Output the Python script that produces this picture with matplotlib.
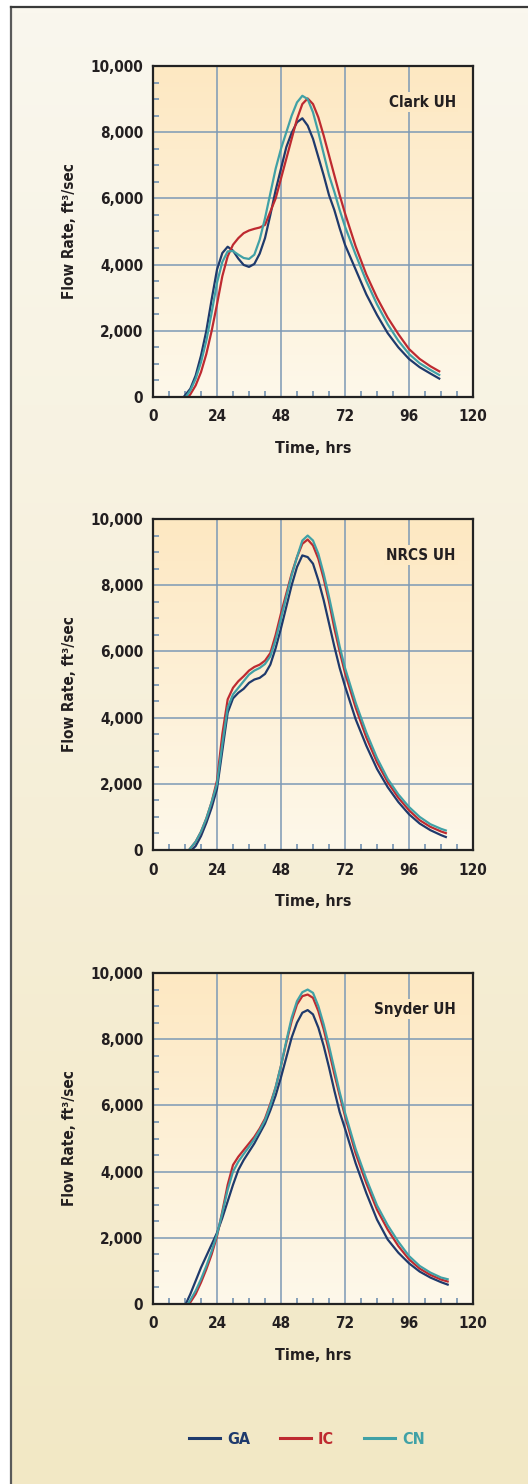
import numpy as np
import matplotlib
matplotlib.use("Agg")
import matplotlib.pyplot as plt
from matplotlib.lines import Line2D
from matplotlib.ticker import MultipleLocator, StrMethodFormatter

plt.rcParams["font.family"] = ["DejaVu Sans"]
plt.rcParams["font.stretch"] = "condensed"
plt.rcParams["font.weight"] = "bold"
plt.rcParams["axes.labelweight"] = "bold"

# ── Data ─────────────────────────────────────────────────────────────────────
# Clark UH
CLARK_HOURS = [14, 16, 18, 20, 22, 24, 26, 28, 30, 32, 34, 36, 38, 40, 42, 44, 46, 48,
               50, 52, 54, 56, 58, 60, 62, 64, 66, 68, 70, 72, 76, 80, 84, 88, 92, 96,
               100, 104, 107.7]
CLARK_START = {"GA": 11.5, "IC": 13.2, "CN": 12.3}
CLARK_GA = [250, 650, 1250, 2000, 2950, 3850, 4350, 4540, 4420, 4180, 3990, 3930, 4020,
            4330, 4800, 5500, 6250, 6900, 7550, 7980, 8300, 8420, 8200, 7800, 7250, 6700,
            6100, 5650, 5100, 4600, 3850, 3100, 2480, 1930, 1500, 1150, 900, 710, 540]
CLARK_IC = [80, 350, 750, 1300, 2000, 2800, 3650, 4250, 4600, 4800, 4950, 5030, 5080,
            5120, 5200, 5600, 6000, 6600, 7200, 7800, 8400, 8850, 9020, 8850, 8450, 7900,
            7300, 6700, 6100, 5550, 4550, 3700, 3000, 2400, 1900, 1450, 1150, 930, 760]
CLARK_CN = [200, 550, 1050, 1700, 2550, 3450, 4080, 4400, 4410, 4300, 4200, 4170, 4300,
            4750, 5400, 6150, 6900, 7500, 8000, 8500, 8900, 9100, 9000, 8600, 8000, 7350,
            6700, 6200, 5650, 5150, 4300, 3500, 2800, 2200, 1700, 1300, 1020, 820, 650]

# NRCS UH
NRCS_HOURS = [16, 18, 20, 22, 24, 26, 28, 30, 32, 34, 36, 38, 40, 42, 44, 46, 48, 50,
              52, 54, 56, 58, 60, 62, 64, 66, 68, 70, 72, 76, 80, 84, 88, 92, 96, 100,
              104, 108, 110.2]
NRCS_START = {"GA": 14.5, "IC": 13.5, "CN": 13.5}
NRCS_GA = [120, 420, 820, 1280, 1850, 3000, 4150, 4580, 4750, 4870, 5050, 5150, 5200,
           5320, 5600, 6100, 6700, 7350, 8000, 8550, 8900, 8850, 8650, 8150, 7550, 6850,
           6150, 5500, 4950, 3950, 3150, 2450, 1900, 1450, 1080, 800, 600, 450, 380]
NRCS_IC = [250, 550, 950, 1450, 2100, 3500, 4550, 4900, 5100, 5250, 5420, 5530, 5600,
           5720, 5950, 6500, 7150, 7750, 8350, 8850, 9250, 9380, 9200, 8800, 8200, 7500,
           6700, 6000, 5350, 4300, 3400, 2650, 2050, 1580, 1200, 900, 700, 560, 500]
NRCS_CN = [250, 550, 950, 1450, 2000, 3200, 4300, 4700, 4900, 5100, 5300, 5420, 5500,
           5620, 5850, 6350, 7000, 7650, 8300, 8850, 9350, 9500, 9350, 8950, 8350, 7650,
           6900, 6150, 5500, 4450, 3550, 2780, 2150, 1680, 1300, 1000, 780, 640, 580]

# Snyder UH
SNYDER_HOURS = [14, 16, 18, 20, 22, 24, 26, 28, 30, 32, 34, 36, 38, 40, 42, 44, 46, 48,
                50, 52, 54, 56, 58, 60, 62, 64, 66, 68, 70, 72, 76, 80, 84, 88, 92, 96,
                100, 104, 108, 110.9]
SNYDER_START = {"GA": 12.3, "IC": 13.5, "CN": 13.0}
SNYDER_GA = [300, 700, 1100, 1450, 1800, 2150, 2600, 3100, 3600, 4050, 4350, 4600, 4850,
             5150, 5450, 5850, 6300, 6850, 7450, 8050, 8500, 8800, 8880, 8750, 8350, 7800,
             7150, 6450, 5800, 5300, 4250, 3350, 2550, 1950, 1550, 1230, 980, 800, 660, 575]
SNYDER_IC = [50, 300, 650, 1050, 1500, 2050, 2800, 3600, 4200, 4450, 4650, 4850, 5050,
             5300, 5600, 6050, 6550, 7200, 7900, 8550, 9050, 9300, 9350, 9250, 8850, 8300,
             7650, 6950, 6300, 5680, 4550, 3650, 2850, 2250, 1750, 1350, 1070, 880, 740, 670]
SNYDER_CN = [120, 400, 750, 1150, 1600, 2100, 2750, 3450, 4000, 4300, 4530, 4750, 4980,
             5250, 5550, 6000, 6550, 7200, 7950, 8650, 9150, 9420, 9500, 9400, 9000, 8450,
             7800, 7100, 6400, 5780, 4680, 3780, 2980, 2380, 1880, 1450, 1150, 950, 800, 740]

SERIES = ["GA", "IC", "CN"]
COLORS = {"GA": "#1f3a6c", "IC": "#be2a30", "CN": "#40a1a6"}
X_TICKS = [0, 24, 48, 72, 96, 120]
Y_TICKS = [0, 2000, 4000, 6000, 8000, 10000]

PANELS = [
    ("Clark UH", CLARK_HOURS, CLARK_START, {"GA": CLARK_GA, "IC": CLARK_IC, "CN": CLARK_CN}),
    ("NRCS UH", NRCS_HOURS, NRCS_START, {"GA": NRCS_GA, "IC": NRCS_IC, "CN": NRCS_CN}),
    ("Snyder UH", SNYDER_HOURS, SNYDER_START, {"GA": SNYDER_GA, "IC": SNYDER_IC, "CN": SNYDER_CN}),
]

# ── Figure ───────────────────────────────────────────────────────────────────
W, H = 528, 1484
fig = plt.figure(figsize=(W / 100, H / 100), dpi=100)
fig.patch.set_facecolor("white")

# page background: vertical gradient inside a frame
bg = fig.add_axes([11 / W, 0, 1 - 11 / W, 1 - 7 / H], zorder=-10)
top_c = np.array([0xfa, 0xf7, 0xee]) / 255
bot_c = np.array([0xf2, 0xe8, 0xc5]) / 255
grad = np.linspace(0, 1, 256)[:, None, None]
bg.imshow(top_c * (1 - grad) + bot_c * grad, aspect="auto", extent=[0, 1, 0, 1])
bg.set_axis_off()
fig.add_artist(Line2D([11 / W, 11 / W], [0, 1 - 7 / H], color="#5a5a5a", lw=1.6))
fig.add_artist(Line2D([11 / W, 1], [1 - 7 / H, 1 - 7 / H], color="#3a3a3a", lw=1.6))

GRID_C = "#7d99b5"
TEXT_C = "#231f20"
ax_top = [66, 519, 973]
ax_left, ax_w, ax_h = 153, 320, 331

ax_top_c = np.array([0xfd, 0xe8, 0xc2]) / 255
ax_bot_c = np.array([0xfe, 0xf8, 0xea]) / 255
ax_grad = ax_top_c * (1 - grad) + ax_bot_c * grad

for (name, hours, start, vals), top in zip(PANELS, ax_top):
    ax = fig.add_axes([ax_left / W, 1 - (top + ax_h) / H, ax_w / W, ax_h / H])
    ax.imshow(ax_grad, aspect="auto", extent=[0, 120, 0, 10000], zorder=0)
    for s in SERIES:
        x = np.r_[start[s], hours]
        y = np.r_[0, vals[s]]
        ax.plot(x, y, color=COLORS[s], lw=1.6, zorder=3, solid_capstyle="butt",
                solid_joinstyle="round")
    ax.set_xlim(0, 120)
    ax.set_ylim(0, 10000)
    ax.set_xticks(X_TICKS)
    ax.set_yticks(Y_TICKS)
    ax.xaxis.set_minor_locator(MultipleLocator(6))
    ax.yaxis.set_minor_locator(MultipleLocator(500))
    ax.yaxis.set_major_formatter(StrMethodFormatter("{x:,.0f}"))
    ax.grid(True, which="major", color=GRID_C, lw=1.1)
    ax.set_axisbelow(True)
    ax.tick_params(which="major", length=0, pad=7, labelsize=11, labelcolor=TEXT_C)
    ax.tick_params(axis="x", which="major", pad=9)
    ax.tick_params(which="minor", direction="in", length=4.5, width=1.3, color=GRID_C)
    for sp in ax.spines.values():
        sp.set_color("#222222")
        sp.set_linewidth(1.6)
        sp.set_zorder(4)
    ax.set_xlabel("Time, hrs", fontsize=11.5, color=TEXT_C, labelpad=12)
    ax.set_ylabel("Flow Rate, ft³/sec", fontsize=11, color=TEXT_C, labelpad=10)
    ax.text(113.5, 8910, name, ha="right", va="center", fontsize=11, color=TEXT_C,
            zorder=5, bbox=dict(facecolor="#fde9c5", edgecolor="none", pad=1.5))

handles = [Line2D([], [], color=COLORS[s], lw=2.2) for s in SERIES]
fig.legend(handles, SERIES, loc="center", bbox_to_anchor=(307 / W, 1 - 1439 / H),
           ncol=3, frameon=False, fontsize=11.5, handlelength=1.9, handletextpad=0.45,
           columnspacing=1.9, labelcolor="linecolor")

fig.savefig("out.png", dpi=100)
